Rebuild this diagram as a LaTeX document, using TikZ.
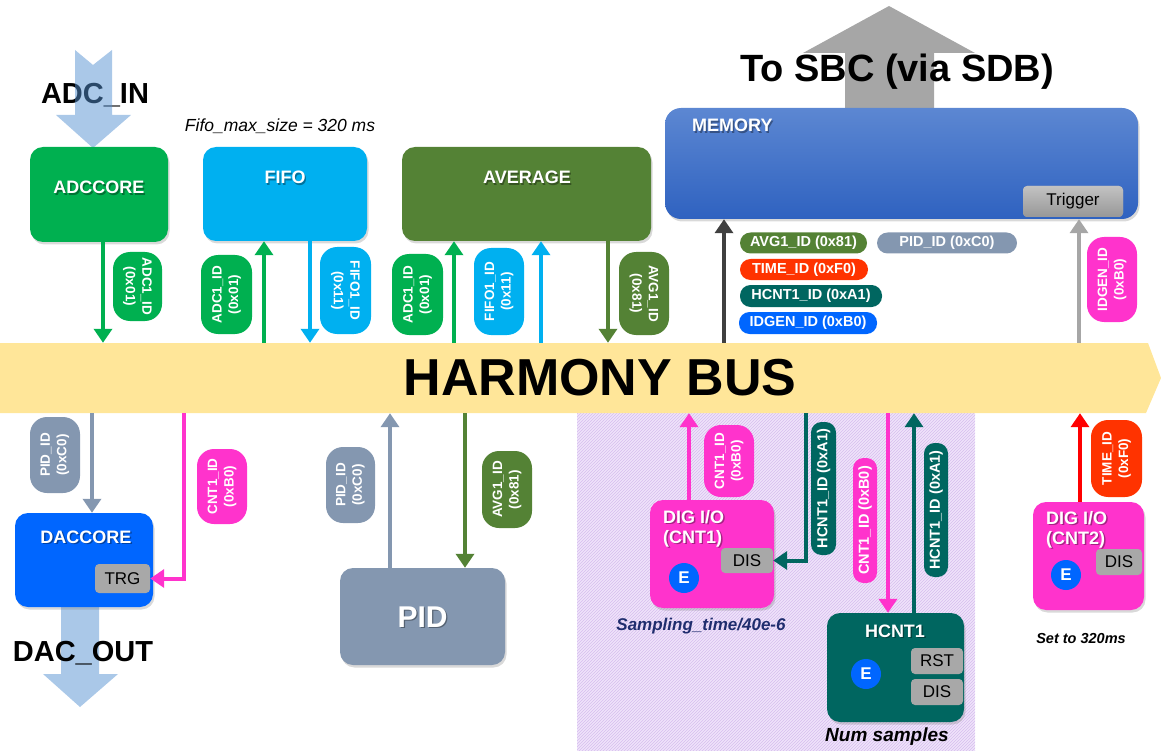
\documentclass[tikz,border=0pt]{standalone}
\usepackage{fontspec}
\setmainfont{Liberation Sans}
\usetikzlibrary{arrows.meta,shadows,patterns}

\definecolor{adcgreen}{RGB}{0,176,80}
\definecolor{fifoblue}{RGB}{0,176,240}
\definecolor{avgolive}{RGB}{84,130,53}
\definecolor{pidgray}{RGB}{132,151,176}
\definecolor{dacblue}{RGB}{0,102,255}
\definecolor{magen}{RGB}{255,51,204}
\definecolor{hcntteal}{RGB}{0,102,96}
\definecolor{timered}{RGB}{255,51,0}
\definecolor{busyellow}{RGB}{255,230,153}
\definecolor{ioblue}{RGB}{170,200,232}
\definecolor{iobluedeep}{RGB}{85,145,209}
\definecolor{sbcgray}{RGB}{166,166,166}
\definecolor{memtop}{RGB}{92,135,210}
\definecolor{membot}{RGB}{47,98,192}
\definecolor{btngray}{RGB}{168,168,168}
\definecolor{lav}{RGB}{240,228,250}
\definecolor{lavline}{RGB}{214,190,238}
\definecolor{navyink}{RGB}{31,45,110}
\definecolor{darkarrow}{RGB}{64,64,64}

\newcommand{\pillfont}{\bfseries\fontsize{13.5}{16.5}\selectfont}
\newcommand{\linefont}{\bfseries\fontsize{14.5}{16}\selectfont}
\newcommand{\ttlfont}{\bfseries\fontsize{18}{20}\selectfont}
\newcommand{\btnfont}{\fontsize{17}{18}\selectfont}
\newcommand{\bigfont}{\bfseries\fontsize{29}{32}\selectfont}

% white block title with a soft dark shadow behind it
% #1 extra options, #2 node name, #3 position, #4 text
\newcommand{\blocktitle}[4][]{%
  \node[ttl,#1,text=black,text opacity=0.35,xshift=1.3pt,yshift=-1.6pt] (#2s) at (#3) {#4};
  \node[ttl,#1] (#2) at (#3) {#4};}

\begin{document}
\begin{tikzpicture}[x=1pt,y=-1pt,
  box/.style={rounded corners=13pt, inner sep=0pt,
    drop shadow={shadow xshift=1.5pt,shadow yshift=-2.5pt,opacity=0.3}},
  ttl/.style={text=white, font=\ttlfont, inner sep=0pt},
  btn/.style={fill=btngray, rounded corners=4pt, inner sep=0pt, font=\btnfont, text=black},
  enode/.style={circle, fill=dacblue, minimum size=30pt, inner sep=0pt, text=white,
    font=\bfseries\fontsize{17}{17}\selectfont},
  pill/.style={text=white, font=\pillfont, align=center, inner sep=0pt, rounded corners=17pt},
  slim/.style={text=white, font=\linefont, inner sep=0pt, rounded corners=10.5pt},
  link/.style={line width=4pt, -{Triangle[width=18pt,length=14pt]}},
  note/.style={anchor=base, inner sep=0pt}
]
\useasboundingbox (0,0) rectangle (1161,751);

% hatched area behind the counters
\fill[lav] (577,413) rectangle (975,751);
\fill[pattern=north east lines, pattern color=lavline] (577,413) rectangle (975,751);

% the bus
\fill[busyellow] (0,343) -- (1148,343) -- (1161,378) -- (1146,413) -- (0,413) -- cycle;
\node[minimum width=1148pt, minimum height=70pt, inner sep=0pt] (bus) at (574,378) {};
\node[note, font=\bfseries\fontsize{52}{54}\selectfont] (bustitle) at (600,395) {HARMONY BUS};

% wide I/O arrows
\node[note, font=\bigfont] (adcin) at (95,104) {ADC\_IN};
\fill[iobluedeep, fill opacity=0.5] (75,50) -- (93,65) -- (112,50) -- (112,115) -- (131,115) -- (93,148) -- (56,115) -- (75,115) -- cycle;
\fill[ioblue] (61,600) -- (99,600) -- (99,674) -- (118,674) -- (80,707) -- (43,674) -- (61,674) -- cycle;
\fill[sbcgray] (845,110) -- (845,53) -- (803,53) -- (889,6) -- (975,53) -- (934,53) -- (934,110) -- cycle;
\node[note, font=\bigfont] (dacout) at (83,661) {DAC\_OUT};
\node[note, font=\bfseries\fontsize{38}{40}\selectfont] (sbc) at (897,82) {To SBC (via SDB)};

% upper blocks
\node[box, fill=adcgreen, minimum width=138pt, minimum height=95pt] (adccore) at (99,194.5) {};
\blocktitle[anchor=base]{adccoreT}{99,194}{ADCCORE}
\node[box, fill=fifoblue, minimum width=164pt, minimum height=94pt] (fifo) at (285,194) {};
\blocktitle[anchor=base]{fifoT}{285,184}{FIFO}
\node[box, fill=avgolive, minimum width=249pt, minimum height=94pt] (average) at (526.5,194) {};
\blocktitle[anchor=base]{averageT}{527,184}{AVERAGE}
\node[box, top color=memtop, bottom color=membot, rounded corners=16pt,
      minimum width=473pt, minimum height=111pt] (memory) at (901.5,163.5) {};
\blocktitle[anchor=base west]{memoryT}{692,132}{MEMORY}
\node[btn, top color=btngray!70!white, bottom color=btngray!90!black,
      minimum width=100pt, minimum height=31pt] (trigger) at (1073,201.5) {Trigger};
\node[note, font=\itshape\fontsize{17.5}{19}\selectfont] (fifonote) at (280,132) {Fifo\_max\_size = 320 ms};

% lower blocks
\node[box, fill=dacblue, minimum width=138pt, minimum height=94pt] (daccore) at (84,560) {};
\blocktitle[anchor=base]{daccoreT}{86,543}{DACCORE}
\node[btn, minimum width=55pt, minimum height=29pt] (trg) at (122.5,578.5) {TRG};
\node[box, fill=pidgray, minimum width=165pt, minimum height=97pt] (pid) at (422.5,616.5) {};
\blocktitle[anchor=base, font=\bfseries\fontsize{30}{32}\selectfont]{pidT}{422.5,627}{PID}

\node[box, fill=magen, minimum width=124pt, minimum height=108pt] (dig1) at (712,554) {};
\blocktitle[anchor=north west, align=left]{dig1T}{663,510}{DIG I/O\\(CNT1)}
\node[btn, minimum width=52pt, minimum height=25pt] (dis1) at (747,560.5) {DIS};
\node[enode] (e1) at (684,578) {E};
\node[note, text=navyink, font=\bfseries\itshape\fontsize{17}{19}\selectfont] (samp) at (701,630) {Sampling\_time/40e-6};

\node[box, fill=hcntteal, minimum width=137pt, minimum height=109pt] (hcnt) at (895.5,667.5) {};
\blocktitle[anchor=base]{hcntT}{895,637}{HCNT1}
\node[btn, minimum width=52pt, minimum height=26pt] (rst) at (937,661) {RST};
\node[btn, minimum width=52pt, minimum height=26pt] (dis2) at (937,692) {DIS};
\node[enode] (e2) at (866,674) {E};
\node[note, font=\bfseries\itshape\fontsize{19}{20}\selectfont] (nums) at (887,741) {Num samples};

\node[box, fill=magen, minimum width=111pt, minimum height=108pt] (dig2) at (1088.5,556) {};
\blocktitle[anchor=north west, align=left]{dig2T}{1046,511}{DIG I/O\\(CNT2)}
\node[btn, minimum width=46pt, minimum height=26pt] (dis3) at (1119,562) {DIS};
\node[enode] (e3) at (1066,575) {E};
\node[note, font=\bfseries\itshape\fontsize{14.5}{16}\selectfont] (setnote) at (1081,643) {Set to 320ms};

% connectors above the bus
\draw[link, adcgreen] (adccore.south -| 103,0) -- (bus.north -| 103,0);
\draw[link, adcgreen] (bus.north -| 264,0) -- (fifo.south -| 264,0);
\draw[link, fifoblue] (fifo.south -| 310,0) -- (bus.north -| 310,0);
\draw[link, adcgreen] (bus.north -| 454,0) -- (average.south -| 454,0);
\draw[link, fifoblue] (bus.north -| 541,0) -- (average.south -| 541,0);
\draw[link, avgolive] (average.south -| 608,0) -- (bus.north -| 608,0);
\draw[link, darkarrow] (bus.north -| 724,0) -- (memory.south -| 724,0);
\draw[link, sbcgray] (bus.north -| 1079,0) -- (memory.south -| 1079,0);

% connectors below the bus
\draw[link, pidgray] (bus.south -| 92,0) -- (daccore.north -| 92,0);
\draw[link, magen] (bus.south -| 184,0) |- (trg.east);
\draw[link, pidgray] (pid.north -| 390,0) -- (bus.south -| 390,0);
\draw[link, avgolive] (bus.south -| 465,0) -- (pid.north -| 465,0);
\draw[link, magen] (dig1.north -| 689,0) -- (bus.south -| 689,0);
\draw[link, hcntteal] (bus.south -| 806,0) |- (dis1.east);
\draw[link, magen] (bus.south -| 888,0) -- (hcnt.north -| 888,0);
\draw[link, hcntteal] (hcnt.north -| 914,0) -- (bus.south -| 914,0);
\draw[link, red] (dig2.north -| 1080,0) -- (bus.south -| 1080,0);

% ID tags above the bus
\node[pill, fill=adcgreen, rotate=-90, minimum width=69pt, minimum height=49pt] (p1) at (137.5,286.5) {ADC1\_ID\\(0x01)};
\node[pill, fill=adcgreen, rotate=90, minimum width=79pt, minimum height=51pt] (p2) at (226.5,294.5) {ADC1\_ID\\(0x01)};
\node[pill, fill=fifoblue, rotate=-90, minimum width=87pt, minimum height=51pt] (p3) at (345.5,290.5) {FIFO1\_ID\\(0x11)};
\node[pill, fill=adcgreen, rotate=90, minimum width=81pt, minimum height=51pt] (p4) at (417.5,294.5) {ADC1\_ID\\(0x01)};
\node[pill, fill=fifoblue, rotate=90, minimum width=87pt, minimum height=50pt] (p5) at (499,291.5) {FIFO1\_ID\\(0x11)};
\node[pill, fill=avgolive, rotate=-90, minimum width=83pt, minimum height=50pt] (p6) at (644,293.5) {AVG1\_ID\\(0x81)};
\node[pill, fill=magen, rotate=90, minimum width=85pt, minimum height=50pt] (p7) at (1112,279.5) {IDGEN\_ID\\(0xB0)};

\node[slim, fill=avgolive, minimum width=127pt, minimum height=21pt] (h1) at (803.5,243) {AVG1\_ID (0x81)};
\node[slim, fill=pidgray, minimum width=140pt, minimum height=21pt] (h2) at (947,243) {PID\_ID (0xC0)};
\node[slim, fill=timered, minimum width=128pt, minimum height=21pt] (h3) at (804,269.5) {TIME\_ID (0xF0)};
\node[slim, fill=hcntteal, minimum width=142pt, minimum height=22pt] (h4) at (811,296) {HCNT1\_ID (0xA1)};
\node[slim, fill=dacblue, minimum width=138pt, minimum height=22pt] (h5) at (808,323) {IDGEN\_ID (0xB0)};

% ID tags below the bus
\node[pill, fill=pidgray, rotate=90, minimum width=76pt, minimum height=50pt] (q1) at (55,455) {PID\_ID\\(0xC0)};
\node[pill, fill=magen, rotate=90, minimum width=75pt, minimum height=50pt] (q2) at (222,486.5) {CNT1\_ID\\(0xB0)};
\node[pill, fill=pidgray, rotate=90, minimum width=76pt, minimum height=49pt] (q3) at (350.5,485) {PID\_ID\\(0xC0)};
\node[pill, fill=avgolive, rotate=90, minimum width=77pt, minimum height=50pt] (q4) at (507,489.5) {AVG1\_ID\\(0x81)};
\node[pill, fill=magen, rotate=90, minimum width=72pt, minimum height=50pt] (q5) at (729,461) {CNT1\_ID\\(0xB0)};
\node[slim, fill=hcntteal, rotate=90, minimum width=133pt, minimum height=25pt] (q6) at (823.5,488.5) {HCNT1\_ID (0xA1)};
\node[slim, fill=magen, rotate=90, minimum width=125pt, minimum height=24pt] (q7) at (865,520.5) {CNT1\_ID (0xB0)};
\node[slim, fill=hcntteal, rotate=90, minimum width=134pt, minimum height=24pt] (q8) at (936,510) {HCNT1\_ID (0xA1)};
\node[pill, fill=timered, rotate=90, minimum width=77pt, minimum height=51pt] (q9) at (1116.5,458.5) {TIME\_ID\\(0xF0)};
\end{tikzpicture}
\end{document}
